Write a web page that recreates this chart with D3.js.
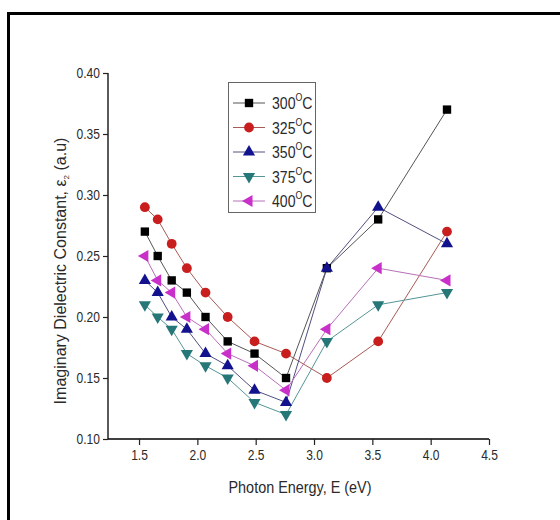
<!DOCTYPE html>
<html><head><meta charset="utf-8">
<script src="https://cdn.jsdelivr.net/npm/d3@7"></script>
<style>body{margin:0;background:#fff;}svg{display:block;font-family:Arial,"Liberation Sans",sans-serif;}</style>
</head><body>
<svg id="c" width="560" height="520"></svg>
<script>
const energy = [1.55, 1.66, 1.78, 1.91, 2.07, 2.26, 2.49, 2.76, 3.11, 3.55, 4.14];
const s300 = [0.27, 0.25, 0.23, 0.22, 0.20, 0.18, 0.17, 0.15, 0.24, 0.28, 0.37];
const s325 = [0.29, 0.28, 0.26, 0.24, 0.22, 0.20, 0.18, 0.17, 0.15, 0.18, 0.27];
const s350 = [0.23, 0.22, 0.20, 0.19, 0.17, 0.16, 0.14, 0.13, 0.24, 0.29, 0.26];
const s375 = [0.21, 0.20, 0.19, 0.17, 0.16, 0.15, 0.13, 0.12, 0.18, 0.21, 0.22];
const s400 = [0.25, 0.23, 0.22, 0.20, 0.19, 0.17, 0.16, 0.14, 0.19, 0.24, 0.23];
const seriesNames = ["300", "325", "350", "375", "400"];
const xTicks = [1.5, 2.0, 2.5, 3.0, 3.5, 4.0, 4.5];
const yTicks = [0.10, 0.15, 0.20, 0.25, 0.30, 0.35, 0.40];

const series = [
  {name: seriesNames[0], values: s300, color: "#000000", line: "#555555", sym: d3.symbolSquare, size: 70, rot: 0},
  {name: seriesNames[1], values: s325, color: "#c81e1e", line: "#a85a55", sym: d3.symbolCircle, size: 75, rot: 0},
  {name: seriesNames[2], values: s350, color: "#12128f", line: "#505080", sym: d3.symbolTriangle, size: 64, rot: 0},
  {name: seriesNames[3], values: s375, color: "#267878", line: "#559595", sym: d3.symbolTriangle, size: 64, rot: 180},
  {name: seriesNames[4], values: s400, color: "#c930c9", line: "#b870b8", sym: d3.symbolTriangle, size: 64, rot: -90}
];

const svg = d3.select("#c");
// outer frame
svg.append("rect").attr("x", 8.5).attr("y", 13.5).attr("width", 620).attr("height", 620)
  .attr("fill", "none").attr("stroke", "#000").attr("stroke-width", 3);

const x = d3.scaleLinear().domain([1.234, 4.5]).range([108, 489]);
const y = d3.scaleLinear().domain([0.10, 0.40]).range([439, 73]);
const K = 0.86;

// x axis
const gx = svg.append("g").attr("transform", "translate(0,439)");
gx.call(d3.axisBottom(x).tickValues(d3.range(1.5, 4.51, 0.25)).tickSize(3).tickFormat(""))
  .call(g => g.select(".domain").remove());
gx.call(d3.axisBottom(x).tickValues(xTicks).tickSize(6).tickPadding(5).tickFormat(d3.format(".1f")));
gx.selectAll(".domain").attr("d", "M108,0H489").attr("stroke-width", 1.3);
gx.selectAll("line").attr("stroke", "#222").attr("stroke-width", 1.2);
gx.selectAll("text").attr("font-size", 14).attr("fill", "#2a2a2a")
  .attr("font-family", "Arial, 'Liberation Sans', sans-serif").attr("transform", `scale(${K},1)`);

// y axis
const gy = svg.append("g").attr("transform", "translate(108,0)");
gy.call(d3.axisLeft(y).tickValues(d3.range(0.125, 0.40, 0.05)).tickSize(3).tickFormat(""))
  .call(g => g.select(".domain").remove());
gy.call(d3.axisLeft(y).tickValues(yTicks).tickSize(5).tickPadding(3).tickFormat(d3.format(".2f")));
gy.selectAll(".domain").attr("d", "M0,73V439").attr("stroke-width", 1.3);
gy.selectAll("line").attr("stroke", "#222").attr("stroke-width", 1.2);
gy.selectAll("text").attr("font-size", 14).attr("fill", "#2a2a2a")
  .attr("font-family", "Arial, 'Liberation Sans', sans-serif")
  .attr("x", -8 / K).attr("transform", `scale(${K},1)`);

// axis titles
svg.append("text").attr("transform", `translate(300,493) scale(0.9,1)`).attr("text-anchor", "middle")
  .attr("font-size", 16).attr("fill", "#2a2a2a").text("Photon Energy, E (eV)");
const yt = svg.append("text").attr("transform", "translate(66,271) rotate(-90)")
  .attr("text-anchor", "middle").attr("font-size", 16).attr("fill", "#2a2a2a");
yt.append("tspan").text("Imaginary Dielectric Constant, ε");
yt.append("tspan").attr("font-size", 8).attr("dy", 3).text("2");
yt.append("tspan").attr("dy", -3).text(" (a.u)");

// lines and markers
const line = d3.line().x((d, i) => x(energy[i])).y(d => y(d));
series.forEach(s => {
  svg.append("path").datum(s.values).attr("d", line).attr("fill", "none")
    .attr("stroke", s.line).attr("stroke-width", 1);
});
series.forEach(s => {
  const sym = d3.symbol().type(s.sym).size(s.size);
  svg.append("g").selectAll("path").data(s.values).join("path")
    .attr("d", sym)
    .attr("transform", (d, i) => `translate(${x(energy[i])},${y(d)}) rotate(${s.rot})`)
    .attr("fill", s.color);
});

// legend
const lg = svg.append("g");
lg.append("rect").attr("x", 228.5).attr("y", 82.5).attr("width", 87).attr("height", 130)
  .attr("fill", "#fff").attr("stroke", "#666").attr("stroke-width", 1);
series.forEach((s, i) => {
  const cy = 103 + i * 24.5;
  lg.append("line").attr("x1", 233).attr("x2", 265).attr("y1", cy).attr("y2", cy)
    .attr("stroke", s.line).attr("stroke-width", 1);
  lg.append("path").attr("d", d3.symbol().type(s.sym).size(s.size)())
    .attr("transform", `translate(249,${cy}) rotate(${s.rot})`).attr("fill", s.color);
  const t = lg.append("text").attr("transform", `translate(272,${cy + 6}) scale(0.88,1)`)
    .attr("font-size", 16).attr("fill", "#2a2a2a");
  t.append("tspan").text(s.name);
  t.append("tspan").attr("font-size", 10).attr("dy", -8).text("O");
  t.append("tspan").attr("dy", 8).text("C");
});
</script>
</body></html>
